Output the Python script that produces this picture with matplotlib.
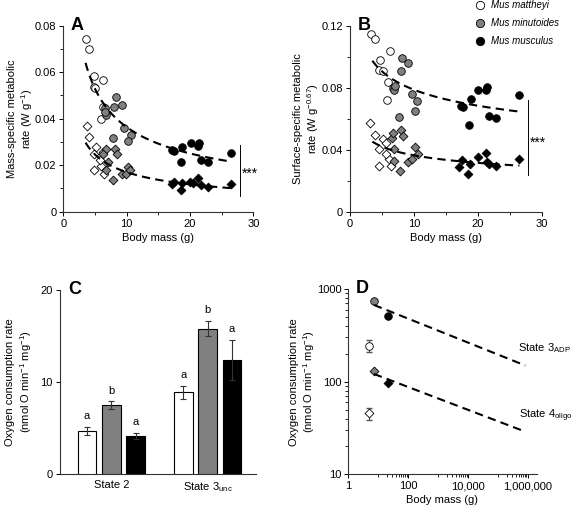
import numpy as np
import matplotlib
matplotlib.use("Agg")
import matplotlib.pyplot as plt
from matplotlib.ticker import FixedLocator, NullFormatter

plt.rcParams['font.family'] = ['Liberation Sans', 'DejaVu Sans']
plt.rcParams['mathtext.fontset'] = 'custom'
plt.rcParams['mathtext.rm'] = 'Liberation Sans'
plt.rcParams['mathtext.it'] = 'Liberation Sans:italic'
plt.rcParams['font.size'] = 8

# ---------------- Data ----------------
species = ['Mus mattheyi', 'Mus minutoides', 'Mus musculus']
colors = ['white', '#808080', 'black']

# Panel A: mass-specific metabolic rate (circles: upper group, diamonds: lower group)
A_circ_mat_x = [3.5, 4.0, 4.9, 6.2, 4.8, 5.0, 6.2, 5.9]
A_circ_mat_y = [0.0744, 0.0701, 0.0584, 0.0566, 0.0538, 0.0530, 0.0452, 0.0399]
A_circ_min_x = [6.5, 6.8, 6.6, 8.3, 8.0, 9.2, 9.6, 10.6, 10.2, 7.8]
A_circ_min_y = [0.0445, 0.0417, 0.0430, 0.0493, 0.0452, 0.0458, 0.0358, 0.0330, 0.0304, 0.0316]
A_circ_mus_x = [17.2, 17.4, 18.8, 20.1, 21.4, 21.2, 18.6, 21.7, 22.8, 26.5]
A_circ_mus_y = [0.0266, 0.0259, 0.0277, 0.0294, 0.0294, 0.0284, 0.0215, 0.0223, 0.0215, 0.0254]
A_dia_mat_x = [3.7, 4.0, 5.1, 4.9, 4.8, 6.0, 6.4, 5.8, 6.3]
A_dia_mat_y = [0.0370, 0.0320, 0.0276, 0.0247, 0.0177, 0.0198, 0.0161, 0.0220, 0.0255]
A_dia_min_x = [6.8, 6.3, 7.1, 6.7, 8.2, 8.4, 7.8, 9.2, 10.2, 9.9, 10.5]
A_dia_min_y = [0.0270, 0.0250, 0.0213, 0.0177, 0.0269, 0.0250, 0.0136, 0.0161, 0.0194, 0.0160, 0.0180]
A_dia_mus_x = [17.2, 17.5, 18.5, 18.8, 20.0, 21.2, 21.7, 22.8, 26.5, 20.5]
A_dia_mus_y = [0.0119, 0.0129, 0.0093, 0.0125, 0.0129, 0.0144, 0.0115, 0.0108, 0.0118, 0.0122]
# power-law fits y = a * x^b
A_fit_upper = (0.1258, -0.539)
A_fit_lower = (0.0579, -0.533)

# Panel B: surface-specific metabolic rate
B_circ_mat_x = [3.3, 3.9, 4.7, 6.2, 4.6, 5.1, 6.0, 5.8]
B_circ_mat_y = [0.1146, 0.1114, 0.0980, 0.1040, 0.0916, 0.0909, 0.0840, 0.0722]
B_circ_min_x = [8.2, 9.0, 8.0, 6.7, 6.9, 7.1, 9.7, 10.5, 10.2, 7.7]
B_circ_min_y = [0.0995, 0.0959, 0.0905, 0.0797, 0.0782, 0.0810, 0.0758, 0.0717, 0.0650, 0.0614]
B_circ_mus_x = [17.4, 17.6, 18.9, 20.0, 21.3, 21.5, 18.6, 21.8, 22.9, 26.4]
B_circ_mus_y = [0.0683, 0.0674, 0.0726, 0.0786, 0.0782, 0.0804, 0.0562, 0.0618, 0.0605, 0.0752]
B_dia_mat_x = [3.2, 3.9, 5.1, 4.6, 5.7, 6.1, 6.4, 4.6, 5.6]
B_dia_mat_y = [0.0571, 0.0495, 0.0467, 0.0403, 0.0446, 0.0338, 0.0297, 0.0295, 0.0373]
B_dia_min_x = [6.5, 6.7, 8.0, 8.25, 6.9, 6.9, 7.8, 9.0, 9.7, 10.2, 10.6]
B_dia_min_y = [0.0478, 0.0506, 0.0528, 0.0489, 0.0403, 0.0327, 0.0265, 0.0319, 0.0340, 0.0414, 0.0373]
B_dia_mus_x = [17.0, 17.5, 18.5, 18.8, 20.0, 21.3, 21.4, 21.8, 22.9, 26.5]
B_dia_mus_y = [0.0290, 0.0334, 0.0243, 0.0308, 0.0351, 0.0381, 0.0323, 0.0308, 0.0297, 0.0340]
B_fit_upper = (0.1256, -0.203)
B_fit_lower = (0.0586, -0.2075)

# Panel C: mitochondrial oxygen consumption
C_states = ['State 2', 'State 3$_{\\rm unc}$']
C_means = [[4.7, 8.9], [7.5, 15.8], [4.2, 12.4]]   # per species: [state2, state3unc]
C_errs = [[0.47, 0.68], [0.44, 0.84], [0.32, 2.17]]
C_letters = [['a', 'a'], ['b', 'b'], ['a', 'a']]

# Panel D: allometry of mitochondrial respiration
D_mass = [4.8, 7.2, 20.7]
D_state3 = [245, 741, 515]
D_state3_err = [35, 0, 0]
D_state4 = [45.5, 131.6, 97.5]
D_state4_err = [6.5, 0, 0]
D_fit3 = (7.2, 672, -0.129)  # (x0, y0, slope in log-log)
D_fit4 = (7.2, 121, -0.123)
D_fit_xmax = 8.3e5

# ---------------- Figure ----------------
fig = plt.figure(figsize=(5.76, 5.05), dpi=100)
axA = fig.add_axes([0.110, 0.581, 0.330, 0.368])
axB = fig.add_axes([0.6076, 0.581, 0.333, 0.368])
axC = fig.add_axes([0.104, 0.0608, 0.341, 0.365])
axD = fig.add_axes([0.6047, 0.0608, 0.327, 0.367])

def style(ax):
    for s in ['top', 'right']:
        ax.spines[s].set_visible(False)
    for s in ['left', 'bottom']:
        ax.spines[s].set_linewidth(0.8)
        ax.spines[s].set_color('#333333')
    ax.tick_params(which='major', length=3, width=0.7, labelsize=8, pad=2)
    ax.tick_params(which='minor', length=2, width=0.6)

ckw = dict(marker='o', s=30, linewidths=0.6, edgecolors='black', zorder=3, clip_on=False)
dkw = dict(marker='D', s=20, linewidths=0.6, edgecolors='black', zorder=3, clip_on=False)

def scatter_panel(ax, cx, cy, dx, dy, fits, ymax, sig, sig_text_y):
    for x, y, c in zip(cx, cy, colors):
        ax.scatter(x, y, facecolors=c, **ckw)
    for x, y, c in zip(dx, dy, colors):
        ax.scatter(x, y, facecolors=c, **dkw)
    xx = np.linspace(3.5, 26.5, 100)
    for a, b in fits:
        ax.plot(xx, a * xx ** b, ls=(0, (4, 2.5)), color='black', lw=1.5, zorder=4)
    ax.set_xlim(0, 30)
    ax.set_ylim(0, ymax)
    ax.set_xticks([0, 10, 20, 30])
    ax.xaxis.set_minor_locator(FixedLocator([5, 15, 25]))
    ax.set_xlabel('Body mass (g)', fontsize=8, labelpad=3)
    ax.plot([27.9, 27.9], sig, color='black', lw=0.7, clip_on=False)
    ax.text(28.2, sig_text_y, '***', fontsize=10, va='center', ha='left', clip_on=False)
    style(ax)

scatter_panel(axA,
              [A_circ_mat_x, A_circ_min_x, A_circ_mus_x],
              [A_circ_mat_y, A_circ_min_y, A_circ_mus_y],
              [A_dia_mat_x, A_dia_min_x, A_dia_mus_x],
              [A_dia_mat_y, A_dia_min_y, A_dia_mus_y],
              [A_fit_upper, A_fit_lower], 0.08, [0.0287, 0.0065], 0.0162)
axA.set_yticks([0, 0.02, 0.04, 0.06, 0.08])
axA.set_yticklabels(['0', '0.02', '0.04', '0.06', '0.08'])
axA.yaxis.set_minor_locator(FixedLocator([0.01, 0.03, 0.05, 0.07]))
axA.set_ylabel('Mass-specific metabolic\nrate (W g$^{\u22121}$)', fontsize=8, labelpad=0)

scatter_panel(axB,
              [B_circ_mat_x, B_circ_min_x, B_circ_mus_x],
              [B_circ_mat_y, B_circ_min_y, B_circ_mus_y],
              [B_dia_mat_x, B_dia_min_x, B_dia_mus_x],
              [B_dia_mat_y, B_dia_min_y, B_dia_mus_y],
              [B_fit_upper, B_fit_lower], 0.12, [0.072, 0.0237], 0.0445)
axB.set_yticks([0, 0.04, 0.08, 0.12])
axB.set_yticklabels(['0', '0.04', '0.08', '0.12'])
axB.yaxis.set_minor_locator(FixedLocator([0.02, 0.06, 0.10]))
axB.set_ylabel('Surface-specific metabolic\nrate (W g$^{\u22120.67}$)', fontsize=8, labelpad=0)

# Legend (manual, above panel B)
leg_y = [0.990, 0.954, 0.919]
for name, c, y in zip(species, colors, leg_y):
    fig.lines.append(plt.Line2D([0.834], [y], marker='o', ms=6, mfc=c, mec='black',
                                mew=0.6, ls='none', transform=fig.transFigure))
    fig.text(0.852, y, name, fontsize=7, style='italic', va='center', ha='left')

# Panel C bars
group_x = [0.0, 3.97]
offsets = [-1.0, 0.0, 1.0]
bw = 0.77
for i in range(3):
    xs = [g + offsets[i] for g in group_x]
    axC.bar(xs, C_means[i], width=bw, color=colors[i], edgecolor='black', linewidth=0.8,
            yerr=C_errs[i], error_kw=dict(ecolor='#333333', elinewidth=0.8, capsize=2.5, capthick=0.8),
            zorder=3)
    for x, m, e, l in zip(xs, C_means[i], C_errs[i], C_letters[i]):
        axC.annotate(l, (x, m + e), xytext=(0, 4), textcoords='offset points',
                     ha='center', va='bottom', fontsize=8)
axC.set_xlim(-2.12, 5.97)
axC.set_ylim(0, 20)
axC.set_yticks([0, 10, 20])
axC.set_xticks(group_x)
axC.set_xticklabels(C_states, fontsize=8)
axC.set_ylabel('Oxygen consumption rate\n(nmol O min$^{\u22121}$ mg$^{\u22121}$)', fontsize=8, labelpad=5)
style(axC)
axC.tick_params(axis='x', length=0, pad=4)

# Panel D
axD.set_xscale('log')
axD.set_yscale('log')
for x, y, e, c in zip(D_mass, D_state3, D_state3_err, colors):
    if e > 0:
        axD.errorbar(x, y, yerr=e, fmt='none', ecolor='#555555', elinewidth=0.8, capsize=2.5, zorder=2)
    axD.scatter(x, y, facecolors=c, **ckw)
for x, y, e, c in zip(D_mass, D_state4, D_state4_err, colors):
    if e > 0:
        axD.errorbar(x, y, yerr=e, fmt='none', ecolor='#555555', elinewidth=0.8, capsize=2.5, zorder=2)
    axD.scatter(x, y, facecolors=c, **dkw)
xx = np.logspace(np.log10(D_fit3[0]), np.log10(D_fit_xmax), 100)
for x0, y0, b in [D_fit3, D_fit4]:
    axD.plot(xx, y0 * (xx / x0) ** b, ls=(0, (4, 2.5)), color='black', lw=1.5, zorder=4)
axD.text(0.90, 0.682, 'State 3$_{\\rm ADP}$', transform=axD.transAxes, fontsize=8, ha='left', va='center', clip_on=False)
axD.text(0.905, 0.316, 'State 4$_{\\rm oligo}$', transform=axD.transAxes, fontsize=8, ha='left', va='center', clip_on=False)
axD.set_xlim(1, 2e6)
axD.set_ylim(10, 1000)
axD.set_xticks([1, 100, 1e4, 1e6])
axD.set_xticklabels(['1', '100', '10,000', '1,000,000'])
minor_x = [k * 10 ** d for d in [1, 3, 5] for k in range(1, 10)]
axD.xaxis.set_minor_locator(FixedLocator(minor_x))
axD.xaxis.set_minor_formatter(NullFormatter())
axD.set_yticks([10, 100, 1000])
axD.set_yticklabels(['10', '100', '1000'])
axD.set_xlabel('Body mass (g)', fontsize=8, labelpad=3)
axD.set_ylabel('Oxygen consumption rate\n(nmol O min$^{\u22121}$ mg$^{\u22121}$)', fontsize=8, labelpad=0)
style(axD)

# Panel letters
for ax, l in zip([axA, axB, axC, axD], ['A', 'B', 'C', 'D']):
    ax.text(0.04, 1.0, l, transform=ax.transAxes, fontsize=13, fontweight='bold',
            ha='left', va='center')

fig.savefig('out.png', dpi=100)
